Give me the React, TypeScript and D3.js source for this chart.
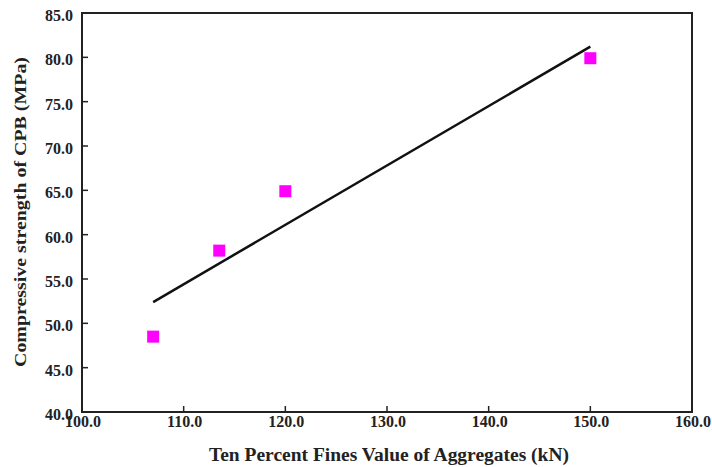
import { useRef, useEffect } from "react";
import * as d3 from "d3";

// measured points (Ten percent fines value, compressive strength)
const tfvValues = [107.0, 113.5, 120.0, 150.0];
const strengthValues = [48.5, 58.2, 64.9, 79.9];
// fitted trend line end points
const fitX = [107.0, 150.0];
const fitY = [52.4, 81.2];

const xTicks = [100, 110, 120, 130, 140, 150, 160];
const yTicks = [40, 45, 50, 55, 60, 65, 70, 75, 80, 85];

const xTitle = "Ten Percent Fines Value of Aggregates (kN)";
const yTitle = "Compressive strength of CPB (MPa)";

const App = () => {
  const svgRef = useRef<SVGSVGElement>(null);

  useEffect(() => {
    const svg = d3.select(svgRef.current);
    svg.selectAll("*").remove();

    const width = 712;
    const height = 467;
    const left = 82;
    const right = 692;
    const top = 13;
    const bottom = 412;
    const font = "'Liberation Serif', 'Times New Roman', serif";

    const x = d3.scaleLinear().domain([100, 160]).range([left, right]);
    const y = d3.scaleLinear().domain([40, 85]).range([bottom, top]);

    svg.attr("width", width).attr("height", height);

    // frame
    svg
      .append("rect")
      .attr("x", left)
      .attr("y", top)
      .attr("width", right - left)
      .attr("height", bottom - top)
      .attr("fill", "none")
      .attr("stroke", "#222")
      .attr("stroke-width", 2);

    // x ticks (inward)
    const gx = svg.append("g");
    gx.selectAll("line")
      .data(xTicks)
      .enter()
      .append("line")
      .attr("x1", (d) => x(d))
      .attr("x2", (d) => x(d))
      .attr("y1", bottom)
      .attr("y2", bottom - 6)
      .attr("stroke", "#222")
      .attr("stroke-width", 1.5);
    gx.selectAll("text")
      .data(xTicks)
      .enter()
      .append("text")
      .attr("x", (d) => x(d) + 1)
      .attr("y", bottom + 15)
      .attr("text-anchor", "middle")
      .attr("font-family", font)
      .attr("font-size", 16)
      .attr("font-weight", "bold")
      .attr("fill", "#222")
      .text((d) => d.toFixed(1));

    // y ticks (inward)
    const gy = svg.append("g");
    gy.selectAll("line")
      .data(yTicks)
      .enter()
      .append("line")
      .attr("x1", left)
      .attr("x2", left + 6)
      .attr("y1", (d) => y(d))
      .attr("y2", (d) => y(d))
      .attr("stroke", "#222")
      .attr("stroke-width", 1.5);
    gy.selectAll("text")
      .data(yTicks)
      .enter()
      .append("text")
      .attr("x", left - 9)
      .attr("y", (d) => y(d) + 8)
      .attr("text-anchor", "end")
      .attr("font-family", font)
      .attr("font-size", 16)
      .attr("font-weight", "bold")
      .attr("fill", "#222")
      .text((d) => d.toFixed(1));

    // trend line
    const line = d3
      .line<number>()
      .x((d) => x(d))
      .y((_, i) => y(fitY[i]));
    svg
      .append("path")
      .datum(fitX)
      .attr("d", line)
      .attr("fill", "none")
      .attr("stroke", "#111")
      .attr("stroke-width", 2.5);

    // points
    const s = 12;
    svg
      .selectAll("rect.pt")
      .data(tfvValues)
      .enter()
      .append("rect")
      .attr("class", "pt")
      .attr("x", (d) => x(d) - s / 2)
      .attr("y", (_, i) => y(strengthValues[i]) - s / 2)
      .attr("width", s)
      .attr("height", s)
      .attr("fill", "#ff00ff");

    // axis titles
    svg
      .append("text")
      .attr("x", 389)
      .attr("y", 461)
      .attr("text-anchor", "middle")
      .attr("font-family", font)
      .attr("font-size", 18)
      .attr("font-weight", "bold")
      .attr("fill", "#222")
      .attr("textLength", 360)
      .attr("lengthAdjust", "spacingAndGlyphs")
      .text(xTitle);

    svg
      .append("text")
      .attr("transform", "translate(26,212) rotate(-90)")
      .attr("text-anchor", "middle")
      .attr("font-family", font)
      .attr("font-size", 17)
      .attr("font-weight", "bold")
      .attr("fill", "#222")
      .attr("textLength", 310)
      .attr("lengthAdjust", "spacingAndGlyphs")
      .text(yTitle);
  }, []);

  return (
    <div style={{ position: "absolute", left: 0, top: 0 }}>
      <svg ref={svgRef}></svg>
    </div>
  );
};

export default App;
